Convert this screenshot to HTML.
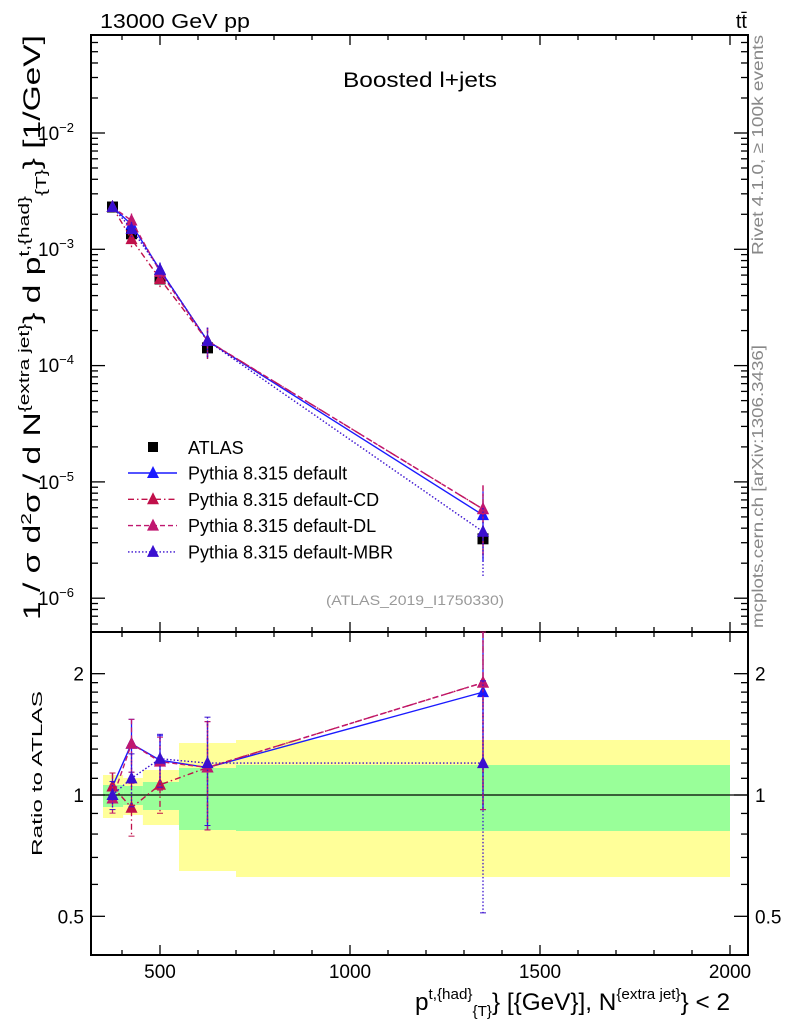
<!DOCTYPE html>
<html><head><meta charset="utf-8"><style>
body{margin:0;background:#fff;}
svg{display:block;font-family:"Liberation Sans",sans-serif;}
</style></head><body>
<svg id="s" width="786" height="1024" xmlns="http://www.w3.org/2000/svg"></svg>
<script>
const S=document.getElementById('s');let h='';
const L=91,R=748,T=35,MB=632,RB=955;
const X=v=>160+(v-500)*0.38;
const YM=v=>133-116.3*(Math.log10(v)+2);
const YR=r=>795-403*Math.log10(r);
const bins=[[350,403,785,807,775,818],[403,455,786,805,778,815],[455,550,782,810,770,825],[550,700,768,830,743,871],[700,2000,765,831,740,877]];
bins.forEach(b=>{h+=`<rect x="${X(b[0])}" y="${b[4]}" width="${X(b[1])-X(b[0])}" height="${b[5]-b[4]}" fill="#ffff99"/>`;});
bins.forEach(b=>{h+=`<rect x="${X(b[0])}" y="${b[2]}" width="${X(b[1])-X(b[0])}" height="${b[3]-b[2]}" fill="#99ff99"/>`;});
h+=`<line x1="${L}" x2="${R}" y1="795" y2="795" stroke="#000" stroke-width="1.2"/>`;
h+=`<rect x="${L}" y="${T}" width="${R-L}" height="${MB-T}" fill="none" stroke="#000" stroke-width="2"/>`;
h+=`<rect x="${L}" y="${MB}" width="${R-L}" height="${RB-MB}" fill="none" stroke="#000" stroke-width="2"/>`;
for(let v=400;v<=2000;v+=100){const x=X(v),M=v%500==0,l=M?10:5;
 [[MB,1],[T,-1],[RB,1],[MB,-1]].forEach(([y,d])=>{h+=`<line x1="${x}" x2="${x}" y1="${y}" y2="${y-d*l}" stroke="#000" stroke-width="1.3"/>`;});}
for(let e=-7;e<=-1;e++)for(let m=1;m<10;m++){const v=m*Math.pow(10,e),y=YM(v);if(y<T||y>MB)continue;const l=m==1?14:7;
 h+=`<line x1="${L}" x2="${L+l}" y1="${y}" y2="${y}" stroke="#000" stroke-width="1.3"/><line x1="${R}" x2="${R-l}" y1="${y}" y2="${y}" stroke="#000" stroke-width="1.3"/>`;}
[0.4,0.5,0.6,0.7,0.8,0.9,1,2].forEach(v=>{const y=YR(v);if(y<MB||y>RB)return;const l=(v==0.5||v==1||v==2)?14:7;
 h+=`<line x1="${L}" x2="${L+l}" y1="${y}" y2="${y}" stroke="#000" stroke-width="1.3"/><line x1="${R}" x2="${R-l}" y1="${y}" y2="${y}" stroke="#000" stroke-width="1.3"/>`;});
for(let v=1.1;v<2;v+=0.1){const y=YR(v);h+=`<line x1="${L}" x2="${L+7}" y1="${y}" y2="${y}" stroke="#000" stroke-width="1.3"/><line x1="${R}" x2="${R-7}" y1="${y}" y2="${y}" stroke="#000" stroke-width="1.3"/>`;}
const xs=[375,425,500,625,1350];
const data=[2.31e-3,1.36e-3,5.56e-4,1.42e-4,3.24e-6];
const rerr=[0.08,0.15,0.15,0.3,0.6];
const models=[
 {c:'#1a1aff',d:'',r:[1.05,1.34,1.22,1.17,1.80],m:[1.0,1.2,1.2,1.15,1.6]},
 {c:'#c0104a',d:'6,3,1.5,3',r:[1.05,0.93,1.06,1.17,1.90],m:[1.0,0.9,1.0,1.15,1.8]},
 {c:'#c01870',d:'5,3',r:[0.98,1.34,1.21,1.17,1.90],m:[1.0,1.3,1.15,1.15,1.8]},
 {c:'#3a10d0',d:'1.5,2',r:[1.00,1.10,1.23,1.20,1.20],m:[1.0,1.1,1.2,1.15,1.15]}];
const tri=(x,y,c)=>`<polygon points="${x-6},${y+5} ${x+6},${y+5} ${x},${y-7}" fill="${c}"/>`;
xs.forEach((v,i)=>{const x=X(v),y=YM(data[i]);h+=`<line x1="${x}" x2="${x}" y1="${YM(data[i]*1.08)}" y2="${YM(data[i]*0.92)}" stroke="#000" stroke-width="1.5"/><rect x="${x-5.5}" y="${y-5.5}" width="11" height="11" fill="#000"/>`;});
models.forEach(m=>{
 let pm=[],pr=[];
 xs.forEach((v,i)=>{const x=X(v),val=data[i]*m.m[i];pm.push(`${x},${YM(val)}`);pr.push(`${x},${YR(m.r[i])}`);});
 h+=`<polyline points="${pm.join(' ')}" fill="none" stroke="${m.c}" stroke-width="1.4" stroke-dasharray="${m.d}"/>`;
 h+=`<polyline points="${pr.join(' ')}" fill="none" stroke="${m.c}" stroke-width="1.4" stroke-dasharray="${m.d}"/>`;
 xs.forEach((v,i)=>{const x=X(v),val=data[i]*m.m[i],e=rerr[i];
  const y1=YM(val*(1+e)),y2=YM(Math.max(val*(1-e),1e-9));
  h+=`<line x1="${x}" x2="${x}" y1="${y1}" y2="${y2}" stroke="${m.c}" stroke-width="1.3" stroke-dasharray="${m.d}"/>`;
  let ry1=Math.max(YR(m.r[i]*(1+e)),MB),ry2=Math.min(YR(m.r[i]*(1-e)),RB);
  if(i==4)ry2=YR(m.c=='#3a10d0'?0.51:0.92);
  h+=`<line x1="${x}" x2="${x}" y1="${ry1}" y2="${ry2}" stroke="${m.c}" stroke-width="1.3" stroke-dasharray="${m.d}"/>`;
  h+=`<line x1="${x-3}" x2="${x+3}" y1="${ry1}" y2="${ry1}" stroke="${m.c}"/><line x1="${x-3}" x2="${x+3}" y1="${ry2}" y2="${ry2}" stroke="${m.c}"/>`;
  h+=tri(x,YM(val),m.c)+tri(x,YR(m.r[i]),m.c);});
});
const lg=[['Pythia 8.315 default','#1a1aff',''],['Pythia 8.315 default-CD','#c0104a','6,3,1.5,3'],['Pythia 8.315 default-DL','#c01870','5,3'],['Pythia 8.315 default-MBR','#3a10d0','1.5,2']];
h+=`<rect x="148" y="442" width="10" height="10" fill="#000"/><text x="188" y="454" font-size="18">ATLAS</text>`;
lg.forEach((l,i)=>{const y=473+i*26.3;h+=`<line x1="128" x2="177" y1="${y}" y2="${y}" stroke="${l[1]}" stroke-width="1.4" stroke-dasharray="${l[2]}"/>`+tri(153,y,l[1])+`<text x="188" y="${y+6.5}" font-size="18">${l[0]}</text>`;});
h+=`<text x="100" y="28" font-size="20" textLength="150" lengthAdjust="spacingAndGlyphs">13000 GeV pp</text><text x="747" y="28" font-size="20" text-anchor="end">tt̄</text>`;
h+=`<text x="343" y="87" font-size="21" textLength="154" lengthAdjust="spacingAndGlyphs">Boosted l+jets</text>`;
h+=`<text x="326" y="605" font-size="14" fill="#999" textLength="178" lengthAdjust="spacingAndGlyphs">(ATLAS_2019_I1750330)</text>`;
h+=`<text transform="translate(763,255) rotate(-90)" font-size="16" fill="#888" textLength="220" lengthAdjust="spacingAndGlyphs">Rivet 4.1.0, ≥ 100k events</text>`;
h+=`<text transform="translate(763,628) rotate(-90)" font-size="16" fill="#888" textLength="283" lengthAdjust="spacingAndGlyphs">mcplots.cern.ch [arXiv:1306.3436]</text>`;
[['-2',133],['-3',249],['-4',365],['-5',482],['-6',598]].forEach(([e,y])=>{h+=`<text x="38" y="${y+7}" font-size="19">10<tspan dy="-8" font-size="13">−${e.slice(1)}</tspan></text>`;});
[['2',YR(2)],['1',795],['0.5',YR(0.5)]].forEach(([t,y])=>{h+=`<text x="84" y="${y+7}" font-size="19" text-anchor="end">${t}</text><text x="755" y="${y+7}" font-size="19">${t}</text>`;});
[500,1000,1500,2000].forEach(v=>{h+=`<text x="${X(v)}" y="978" font-size="19" text-anchor="middle">${v}</text>`;});
h+=`<text transform="translate(42,856) rotate(-90)" font-size="15" textLength="165" lengthAdjust="spacingAndGlyphs">Ratio to ATLAS</text>`;
h+=`<text transform="translate(40,620) rotate(-90)" font-size="24" textLength="585" lengthAdjust="spacingAndGlyphs">1 / σ d<tspan dy="-9" font-size="15">2</tspan><tspan dy="9">σ / d N</tspan><tspan dy="-11" font-size="15">{extra jet}</tspan><tspan dy="11">} d p</tspan><tspan dy="-11" font-size="15">t,{had}</tspan><tspan dy="17" font-size="15">{T}</tspan><tspan dy="-6">} [1/GeV]</tspan></text>`;
h+=`<text x="415" y="1010" font-size="24" textLength="315" lengthAdjust="spacingAndGlyphs">p<tspan dy="-11" font-size="15">t,{had}</tspan><tspan dy="17" font-size="15">{T}</tspan><tspan dy="-6">} [{GeV}], N</tspan><tspan dy="-11" font-size="15">{extra jet}</tspan><tspan dy="11">} &lt; 2</tspan></text>`;
S.innerHTML=h;
</script>
</body></html>
